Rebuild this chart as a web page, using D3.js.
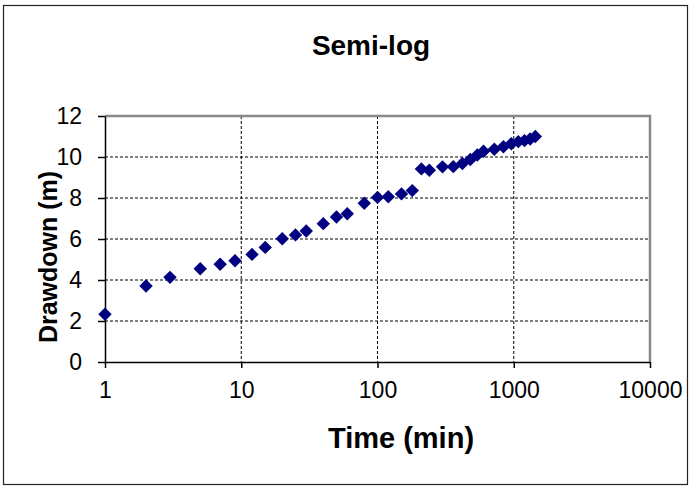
<!DOCTYPE html>
<html>
<head>
<meta charset="utf-8">
<script src="https://cdn.jsdelivr.net/npm/d3@7"></script>
<style>
  body { margin: 0; background: #fff; }
  svg { display: block; font-family: "Liberation Sans", Arial, sans-serif; }
  .grid line { stroke: #000; stroke-width: 1; stroke-dasharray: 3,2; }
  .axis path, .axis line { stroke: #000; stroke-width: 1.5; }
  .axis text { font-size: 23px; fill: #000; }
</style>
</head>
<body>
<div id="chart"></div>
<script>
// pumping test, time since start (min) vs drawdown (m)
var times = [1, 2, 3, 5, 7, 9, 12, 15, 20, 25, 30, 40, 50, 60, 80, 100, 120, 150, 180,
             210, 240, 300, 360, 420, 480, 540, 600, 720, 840, 960, 1080, 1200, 1320, 1440];
var drawdowns = [2.33, 3.71, 4.13, 4.55, 4.77, 4.94, 5.25, 5.59, 6.01, 6.2, 6.39, 6.75, 7.07, 7.23, 7.74, 8.03, 8.06, 8.2, 8.36,
                 9.42, 9.35, 9.52, 9.53, 9.68, 9.88, 10.1, 10.28, 10.38, 10.5, 10.65, 10.75, 10.8, 10.88, 11.0];

var xTicks = [1, 10, 100, 1000, 10000];
var yTicks = [0, 2, 4, 6, 8, 10, 12];

var chartTitle = "Semi-log",
    xTitle = "Time (min)",
    yTitle = "Drawdown (m)";

(function draw() {
    var W = 690, H = 487;
    var margin = {top: 116, right: 40, bottom: 125, left: 105}
        , width = W - margin.left - margin.right
        , height = H - margin.top - margin.bottom;

    var svg = d3.select("#chart").append("svg")
        .attr("width", W)
        .attr("height", H);

    // outer chart frame
    svg.append("rect")
        .attr("x", 3.5).attr("y", 5.5)
        .attr("width", 684).attr("height", 479)
        .attr("fill", "#fff")
        .attr("stroke", "#222")
        .attr("stroke-width", 1.2);

    var g = svg.append("g")
        .attr("transform", "translate(" + margin.left + "," + margin.top + ")");

    var x = d3.scaleLog().domain([1, 10000]).range([0, width]);
    var y = d3.scaleLinear().domain([0, 12]).range([height, 0]);

    // gridlines
    var grid = g.append("g").attr("class", "grid");
    grid.selectAll(".gy")
        .data(yTicks.filter(function(v){ return v > 0 && v < 12; }))
        .enter().append("line")
        .attr("x1", 0).attr("x2", width)
        .attr("y1", function(d){ return y(d); })
        .attr("y2", function(d){ return y(d); });
    grid.selectAll(".gx")
        .data(xTicks.slice(1, -1))
        .enter().append("line")
        .attr("y1", 0).attr("y2", height)
        .attr("x1", function(d){ return x(d); })
        .attr("x2", function(d){ return x(d); });

    // top and right border of plot area
    g.append("path")
        .attr("d", "M0,0H" + width + "V" + height)
        .attr("fill", "none")
        .attr("stroke", "#888")
        .attr("stroke-width", 2.5);

    var xAxis = d3.axisBottom(x)
        .tickValues(xTicks)
        .tickSizeInner(6)
        .tickSizeOuter(0)
        .tickPadding(14)
        .tickFormat(d3.format("d"));

    var yAxis = d3.axisLeft(y)
        .tickValues(yTicks)
        .tickSizeInner(7)
        .tickSizeOuter(0)
        .tickPadding(16)
        .tickFormat(d3.format("d"));

    g.append("g")
        .attr("class", "axis axis--x")
        .attr("transform", "translate(0," + height + ")")
        .call(xAxis);

    g.append("g")
        .attr("class", "axis axis--y")
        .call(yAxis);

    // diamonds
    var pts = times.map(function(t, i){ return {t: t, s: drawdowns[i]}; });
    var diamond = d3.symbol().type(d3.symbolSquare).size(90);
    g.append("g")
        .attr("class", "points")
        .selectAll("path")
        .data(pts)
        .enter().append("path")
        .attr("d", diamond)
        .attr("fill", "#000080")
        .attr("transform", function(d){
            return "translate(" + x(d.t) + "," + y(d.s) + ") rotate(45)";
        });

    // titles
    svg.append("text")
        .attr("x", 371).attr("y", 55)
        .attr("text-anchor", "middle")
        .attr("font-size", "28px")
        .attr("font-weight", "bold")
        .text(chartTitle);

    svg.append("text")
        .attr("x", 401).attr("y", 448)
        .attr("text-anchor", "middle")
        .attr("font-size", "29px")
        .attr("font-weight", "bold")
        .text(xTitle);

    svg.append("text")
        .attr("transform", "translate(57,257) rotate(-90)")
        .attr("text-anchor", "middle")
        .attr("font-size", "25px")
        .attr("font-weight", "bold")
        .text(yTitle);
})();
</script>
</body>
</html>
